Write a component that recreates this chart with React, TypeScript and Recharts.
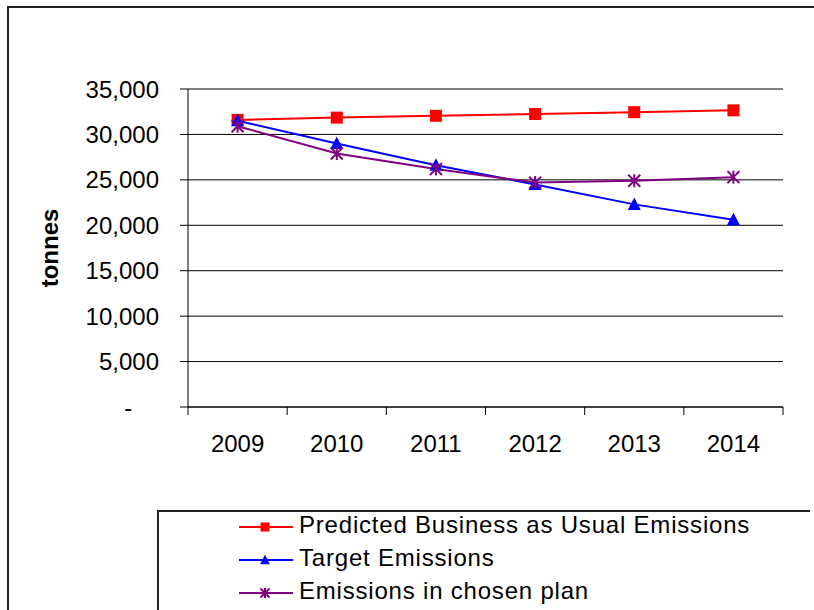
import { CartesianGrid, Legend, Line, LineChart, XAxis, YAxis } from "recharts";

const FONT = '"Liberation Sans", Arial, sans-serif';

const YEARS = ["2009", "2010", "2011", "2012", "2013", "2014"];
const BUSINESS_AS_USUAL = [31600, 31850, 32050, 32250, 32450, 32650];
const TARGET = [31500, 29000, 26600, 24500, 22300, 20600];
const CHOSEN_PLAN = [30900, 27900, 26200, 24700, 24900, 25300];
const Y_TICKS = [0, 5000, 10000, 15000, 20000, 25000, 30000, 35000];

type Marker = "square" | "triangle" | "star";

const SERIES: { key: string; name: string; color: string; marker: Marker }[] = [
  { key: "bau", name: "Predicted Business as Usual Emissions", color: "#ff0000", marker: "square" },
  { key: "target", name: "Target Emissions", color: "#0000ff", marker: "triangle" },
  { key: "plan", name: "Emissions in chosen plan", color: "#800080", marker: "star" },
];

const data = YEARS.map((year, i) => ({
  year,
  bau: BUSINESS_AS_USUAL[i],
  target: TARGET[i],
  plan: CHOSEN_PLAN[i],
}));

function drawMarker(shape: Marker, cx: number, cy: number, color: string, s = 1, key?: string) {
  if (shape === "square") {
    const h = 6 * s;
    return <rect key={key} x={cx - h} y={cy - h} width={h * 2} height={h * 2} fill={color} />;
  }
  if (shape === "triangle") {
    const pts = `${cx},${cy - 7 * s} ${cx + 6.5 * s},${cy + 5.5 * s} ${cx - 6.5 * s},${cy + 5.5 * s}`;
    return <polygon key={key} points={pts} fill={color} />;
  }
  const r = 6 * s;
  return (
    <g key={key} stroke={color} strokeWidth={2}>
      <line x1={cx} y1={cy - r - 0.5} x2={cx} y2={cy + r + 0.5} />
      <line x1={cx - r} y1={cy - r} x2={cx + r} y2={cy + r} />
      <line x1={cx + r} y1={cy - r} x2={cx - r} y2={cy + r} />
    </g>
  );
}

// category labels sit mid-band, tick marks go on the band edges
function YearTick(props: any) {
  const { x, y, payload, index, visibleTicksCount } = props;
  const half = payload?.offset ?? 0;
  const last = index === visibleTicksCount - 1;
  return (
    <g>
      <line x1={x - half} x2={x - half} y1={y} y2={y + 8} stroke="#000" />
      {last && <line x1={x + half} x2={x + half} y1={y} y2={y + 8} stroke="#000" />}
      <text x={x} y={y + 45} textAnchor="middle" fontSize={24} fontFamily={FONT} fill="#000">
        {payload.value}
      </text>
    </g>
  );
}

function LegendBox() {
  return (
    <div
      style={{
        width: 653,
        height: 120,
        borderLeft: "2px solid #222",
        borderTop: "2px solid #222",
        boxSizing: "border-box",
        background: "#fff",
        fontFamily: FONT,
        fontSize: 24,
        letterSpacing: 0.8,
        color: "#000",
      }}
    >
      <div style={{ marginTop: -2 }}>
        {SERIES.map((s) => (
          <div key={s.key} style={{ display: "flex", alignItems: "center", height: 33.3, paddingLeft: 80 }}>
            <svg width={56} height={20} style={{ display: "block" }}>
              <line x1={0} x2={54} y1={10} y2={10} stroke={s.color} strokeWidth={2} />
              {drawMarker(s.marker, 26, 10, s.color, 0.75)}
            </svg>
            <span style={{ marginLeft: 4, position: "relative", top: -2, whiteSpace: "nowrap" }}>{s.name}</span>
          </div>
        ))}
      </div>
    </div>
  );
}

export default function App() {
  return (
    <div
      style={{
        position: "fixed",
        left: 0,
        top: 0,
        width: 814,
        height: 610,
        overflow: "hidden",
        background: "#fff",
      }}
    >
      <div
        style={{
          position: "absolute",
          left: 7,
          top: 6,
          width: 900,
          height: 700,
          border: "2px solid #222",
        }}
      />
      <div style={{ position: "absolute", left: 0, top: 0 }}>
        <LineChart width={814} height={610} data={data} margin={{ top: 89, right: 31, bottom: 163, left: 58 }}>
          <CartesianGrid vertical={false} stroke="#000" />
          <XAxis
            dataKey="year"
            scale="band"
            height={40}
            axisLine={{ stroke: "#000" }}
            tickLine={false}
            tickSize={0}
            tickMargin={0}
            interval={0}
            tick={<YearTick />}
          />
          <YAxis
            width={130}
            domain={[0, 35000]}
            ticks={Y_TICKS}
            interval={0}
            axisLine={{ stroke: "#000" }}
            tickLine={{ stroke: "#000" }}
            tickSize={8}
            tickMargin={21}
            tick={{ fontSize: 24, fill: "#000", fontFamily: FONT }}
            tickFormatter={(v: number) => (v === 0 ? "-\u00a0\u00a0\u00a0\u00a0" : v.toLocaleString("en-US"))}
            label={{
              value: "tonnes",
              angle: -90,
              position: "center",
              dx: -74,
              fontSize: 24,
              fontWeight: 700,
              fontFamily: FONT,
              fill: "#000",
            }}
          />
          {SERIES.map((s) => (
            <Line
              key={s.key}
              dataKey={s.key}
              name={s.name}
              stroke={s.color}
              strokeWidth={2}
              isAnimationActive={false}
              dot={(p: any) => drawMarker(s.marker, p.cx, p.cy, s.color, 1, `${s.key}-${p.index}`)}
              activeDot={false}
            />
          ))}
          <Legend
            layout="vertical"
            align="center"
            verticalAlign="middle"
            wrapperStyle={{ left: 157, top: 510, width: 653, height: 120 }}
            content={() => <LegendBox />}
          />
        </LineChart>
      </div>
    </div>
  );
}
